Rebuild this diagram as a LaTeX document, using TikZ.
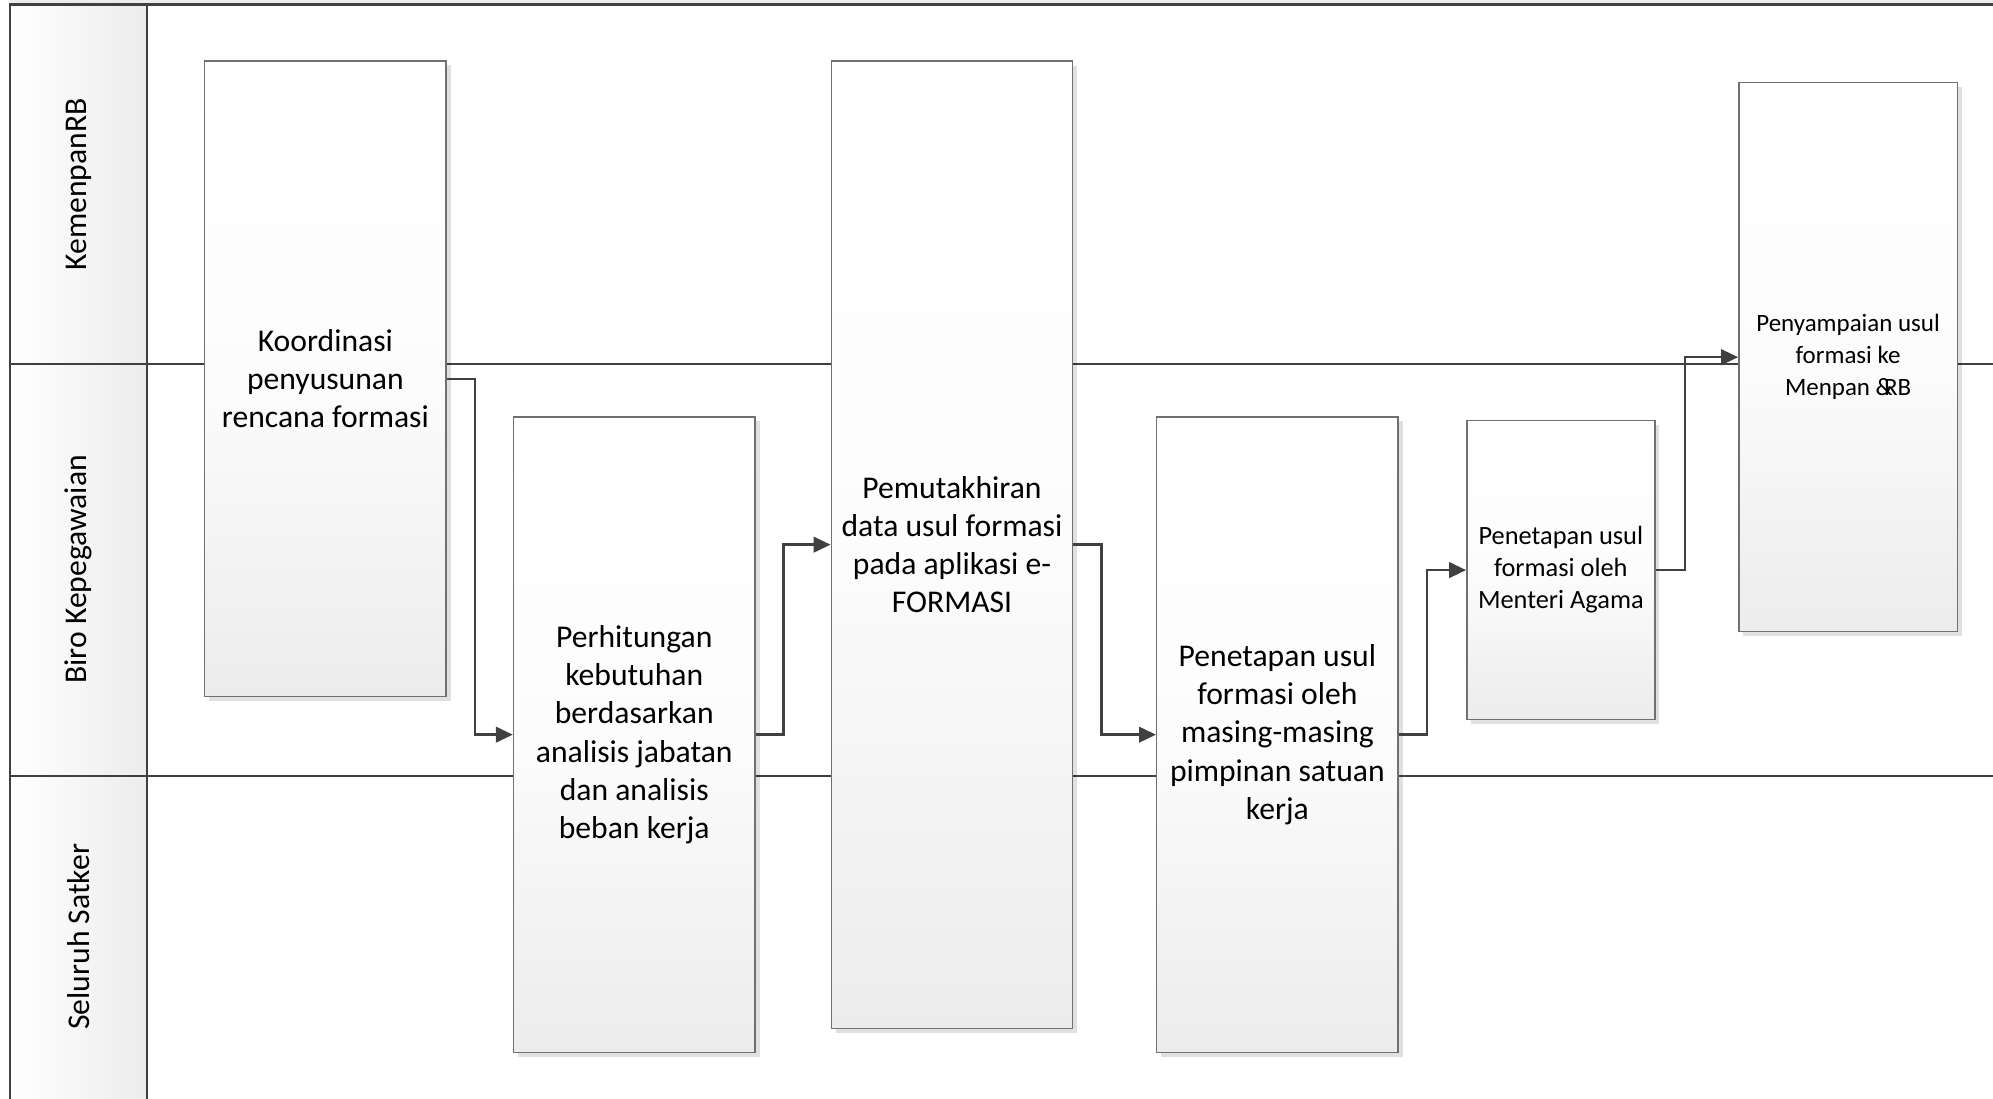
\documentclass[tikz,border=0pt]{standalone}
\usepackage{fontspec}
\setmainfont{Carlito}
\usepackage{tikz}
\usetikzlibrary{arrows.meta,positioning,shadows}
\definecolor{clLine}{HTML}{404040}
\definecolor{clBorder}{HTML}{707070}
\definecolor{clShade}{HTML}{ECECEC}
\tikzset{
  laneline/.style={draw=clLine, line width=0.7pt},
  lanehead/.style={left color=white, right color=clShade, draw=clLine, line width=0.7pt},
  lanelabel/.style={rotate=90, font=\fontsize{9}{11}\selectfont},
  task/.style={rectangle, draw=clBorder, line width=0.4pt, top color=white, bottom color=clShade,
               middle color=white!85!clShade,
               align=center, inner sep=0pt, font=\fontsize{9}{10.9}\selectfont,
               drop shadow={shadow xshift=0.45mm, shadow yshift=-0.45mm, fill=black, opacity=0.12}},
  smalltask/.style={task, font=\fontsize{7.5}{9.1}\selectfont},
  flow/.style={-{Triangle[length=4.8pt, width=4.4pt]}, line width=0.7pt, draw=clLine},
}

\begin{document}
\begin{tikzpicture}[x=0.012711cm, y=0.012711cm]
  \useasboundingbox (0,0) rectangle (1568,-864);
  \fill[clShade] (7.9,0) rectangle (1568,-3.7);
  \shade[lanehead] (7.9,-3.7) rectangle (115.7,-870);
  \draw[laneline] (7.9,-3.7) -- (1568,-3.7);
  \draw[laneline] (7.9,-286.4) -- (1568,-286.4);
  \draw[laneline] (7.9,-610.5) -- (1568,-610.5);
  \draw[laneline] (7.9,-3.7) -- (7.9,-870) (115.7,-3.7) -- (115.7,-870);
  \node[lanelabel] (kemenpan) at (62,-145) {KemenpanRB};
  \node[lanelabel] (biro) at (62,-448) {Biro Kepegawaian};
  \node[lanelabel] (satker) at (62,-737) {Seluruh Satker};

  \node[task, minimum width=2.415cm, minimum height=6.356cm] (koord) at (256,-298)
    {Koordinasi\\penyusunan\\rencana formasi};
  \node[task, minimum width=2.415cm, minimum height=6.356cm] (hitung) at (499,-578)
    {Perhitungan\\kebutuhan\\berdasarkan\\analisis jabatan\\dan analisis\\beban kerja};
  \node[task, minimum width=2.415cm, minimum height=9.673cm] (mutakhir) at (749,-428.5)
    {Pemutakhiran\\data usul formasi\\pada aplikasi e-\\FORMASI};
  \node[task, minimum width=2.415cm, minimum height=6.356cm] (tetapsatker) at (1005,-578)
    {Penetapan usul\\formasi oleh\\masing-masing\\pimpinan satuan\\kerja};
  \node[smalltask, minimum width=1.881cm, minimum height=2.987cm] (tetapmenteri) at (1228,-448.5)
    {Penetapan usul\\formasi oleh\\Menteri Agama};
  \node[smalltask, minimum width=2.186cm, minimum height=5.491cm, font=\fontsize{7.1}{9.1}\selectfont] (sampai) at (1454,-281)
    {Penyampaian usul\\formasi ke\\Menpan \&\kern-0.35em RB};

  \draw[flow] (koord.east) -- ++(22,0) |- (hitung.west);
  \draw[flow] (hitung.east) -- ++(22,0) |- (mutakhir.west);
  \draw[flow] (mutakhir.east) -- ++(22,0) |- (tetapsatker.west);
  \draw[flow] (tetapsatker.east) -- ++(22,0) |- (tetapmenteri.west);
  \draw[flow] (tetapmenteri.east) -- ++(23,0) |- (sampai.west);
\end{tikzpicture}
\end{document}
